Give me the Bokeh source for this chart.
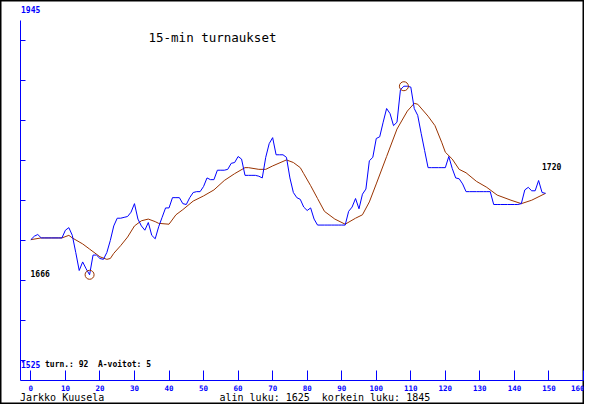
from bokeh.plotting import figure
from bokeh.models import Range1d, FixedTicker, Label, LinearAxis
from bokeh.embed import file_html
from bokeh.resources import INLINE

# ---- data ----
x_blue = list(range(150))
blue = [1666, 1670, 1672, 1668, 1668, 1668, 1668, 1668, 1668, 1668,
        1677, 1680, 1671, 1651, 1630, 1640, 1632, 1625, 1648, 1648,
        1644, 1643, 1651, 1665, 1682, 1691, 1691, 1692, 1693, 1698,
        1708, 1690, 1682, 1677, 1686, 1671, 1667, 1681, 1692, 1703,
        1703, 1715, 1715, 1715, 1708, 1707, 1715, 1721, 1722, 1722,
        1728, 1738, 1736, 1736, 1747, 1747, 1747, 1748, 1755, 1756,
        1763, 1760, 1741, 1741, 1741, 1741, 1740, 1738, 1762, 1778,
        1785, 1765, 1765, 1765, 1762, 1738, 1721, 1715, 1713, 1704,
        1700, 1703, 1690, 1683, 1683, 1683, 1683, 1683, 1683, 1683,
        1683, 1683, 1699, 1704, 1714, 1702, 1719, 1725, 1758, 1762,
        1784, 1786, 1803, 1819, 1813, 1799, 1803, 1841, 1845, 1845,
        1844, 1819, 1811, 1790, 1770, 1750, 1750, 1750, 1750, 1750,
        1750, 1763, 1749, 1738, 1737, 1731, 1722, 1722, 1722, 1722,
        1722, 1722, 1722, 1722, 1707, 1707, 1707, 1707, 1707, 1707,
        1707, 1707, 1708, 1724, 1727, 1723, 1723, 1735, 1721, 1720]

x_red = [0, 3, 9, 11, 12, 15, 17, 20, 22, 23, 24, 26, 28, 30, 32, 34, 36, 37,
         40, 42, 44, 47, 50, 53, 56, 59, 62, 63, 66, 68, 70, 74, 76, 78, 79,
         81, 83, 85, 88, 91, 94, 96, 98, 100, 103, 106, 109, 111, 112, 115,
         117, 119, 120, 122, 124, 126, 129, 132, 135, 139, 142, 145, 149]
red = [1666, 1668, 1668, 1671, 1668, 1661, 1655, 1646, 1643, 1644, 1650, 1659,
       1669, 1682, 1688, 1690, 1687, 1685, 1684, 1695, 1701, 1711, 1717, 1724,
       1735, 1743, 1750, 1750, 1748, 1748, 1752, 1759, 1756, 1750, 1743, 1729,
       1714, 1699, 1690, 1684, 1691, 1695, 1710, 1731, 1763, 1795, 1816, 1825,
       1824, 1810, 1799, 1779, 1768, 1760, 1748, 1744, 1734, 1727, 1718, 1712,
       1708, 1712, 1720]

x_ticks = [0, 10, 20, 30, 40, 50, 60, 70, 80, 90, 100, 110, 120, 130, 140, 150, 160]
y_ticks = [1525, 1571.67, 1618.33, 1665, 1711.67, 1758.33, 1805, 1851.67, 1898.33]
y_top_label = "1945"
y_bottom_label = "1525"
start_label = "1666"
end_label = "1720"
title_text = "15-min turnaukset"
info_text = "turn.: 92\u00a0\u00a0A-voitot: 5"
author_text = "Jarkko Kuusela"
minmax_text = "alin luku: 1625\u00a0\u00a0korkein luku: 1845"

BLUE = "#0000ff"
BROWN = "#993300"
MONO = "DejaVu Sans Mono"

W, H = 584, 404
# axis box (pixel coords of the drawing) and its data limits
AX0, AX1 = -3, 160
AY0, AY1 = 1501.667, 1921.667
FL, FR, FT, FB = 20, 583, 20, 380
SX = (FR - FL) / (AX1 - AX0)
SY = (FB - FT) / (AY1 - AY0)


def dx(px):
    return AX0 + (px - FL) / SX


def dy(py):
    return AY1 - (py - FT) / SY


p = figure(width=W, height=H, output_backend="svg", toolbar_location=None,
           x_range=Range1d(dx(0), dx(W)), y_range=Range1d(dy(H), dy(0)),
           x_axis_location=None, y_axis_location=None, min_border=0)
p.min_border_left = 0
p.min_border_right = 0
p.min_border_top = 0
p.min_border_bottom = 0
p.outline_line_color = "black"
p.outline_line_width = 2
p.grid.visible = False
p.background_fill_color = "white"
p.border_fill_color = "white"

# x axis
xa = LinearAxis(fixed_location=AY0, bounds=(AX0, AX1))
xa.ticker = FixedTicker(ticks=x_ticks)
xa.minor_tick_line_color = None
xa.major_tick_in = 10
xa.major_tick_out = 0
xa.axis_line_color = BLUE
xa.major_tick_line_color = BLUE
xa.major_label_text_color = BLUE
xa.major_label_text_font = MONO
xa.major_label_text_font_style = "bold"
xa.major_label_text_font_size = "7.5px"
xa.major_label_standoff = 4
p.add_layout(xa, "below")

# y axis
ya = LinearAxis(fixed_location=AX0, bounds=(AY0, AY1))
ya.ticker = FixedTicker(ticks=y_ticks)
ya.minor_tick_line_color = None
ya.major_tick_in = 5
ya.major_tick_out = 0
ya.axis_line_color = BLUE
ya.major_tick_line_color = BLUE
ya.major_label_overrides = {t: "" for t in y_ticks}
ya.major_label_standoff = 0
p.add_layout(ya, "left")

# series
p.line(x_red, red, line_color=BROWN, line_width=1)
p.line(x_blue, blue, line_color=BLUE, line_width=1)

imin = blue.index(min(blue))
imax = blue.index(max(blue))
p.scatter([x_blue[imin], x_blue[imax]], [blue[imin], blue[imax]], marker="circle",
          size=9, fill_color=None, line_color=BROWN, line_width=1)


def add_label(text, px, py, color="black", size="8px", style="bold"):
    p.add_layout(Label(x=dx(px), y=dy(py), text=text, text_color=color,
                       text_font=MONO, text_font_size=size, text_font_style=style,
                       text_baseline="middle", text_align="left"))


add_label(y_top_label, 20.5, 9, color=BLUE)
add_label(y_bottom_label, 20.5, 363.5, color=BLUE)
add_label(info_text, 44.5, 363.5)
add_label(start_label, 30, 273)
add_label(end_label, 541.5, 166)
add_label(title_text, 148, 37, size="12.5px", style="normal")
add_label(author_text, 19.5, 396.5, size="10px", style="normal")
add_label(minmax_text, 219, 396.5, size="10px", style="normal")

open("out.html", "w").write(file_html(p, INLINE))
